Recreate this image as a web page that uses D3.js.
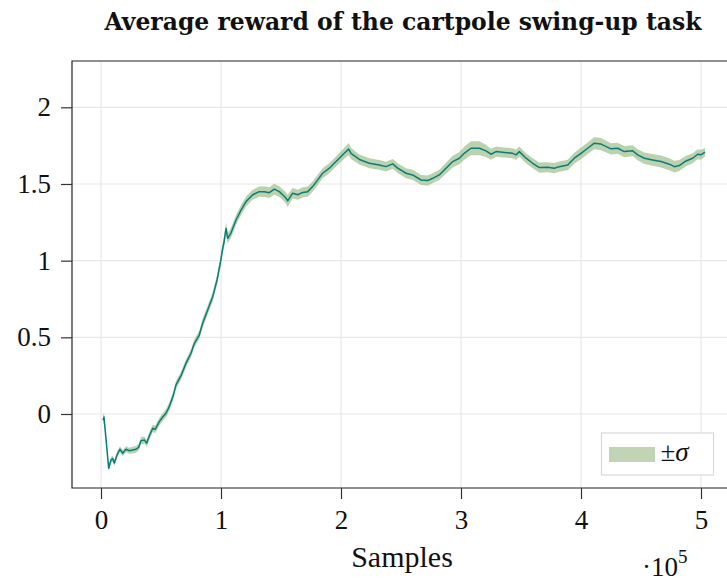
<!DOCTYPE html>
<html>
<head>
<meta charset="utf-8">
<script src="https://cdn.jsdelivr.net/npm/d3@7"></script>
<style>
  body { margin: 0; background: #fff; }
  svg { display: block; }
</style>
</head>
<body>
<div id="chart"></div>
<script>
// samples (raw count), mean reward and std
const samples = [
  1700, 2500, 6400, 8300, 9750, 11100, 13900, 15800, 18100, 20800,
  23600, 26400, 29200, 31400, 33300, 36100, 38100, 40200, 43100, 45200,
  48600, 51400, 54200, 56900, 60200, 62500, 66700, 70800, 75000, 77800,
  81900, 84700, 88900, 93100, 96700, 99400, 101400, 102500, 104200, 105600,
  108300, 112500, 116700, 120800, 126400, 131900, 136100, 140300, 144400, 148600,
  151400, 154200, 155600, 159700, 163900, 168100, 172200, 176400, 180600, 184700,
  190300, 194400, 198600, 202700, 206400, 208300, 215300, 223600, 231900, 237500,
  243100, 247200, 254200, 259700, 266700, 272200, 276400, 281900, 287500, 293100,
  298600, 302700, 308300, 315300, 320800, 325000, 329200, 336100, 343100, 345800,
  348600, 354200, 359700, 365300, 372200, 377800, 381900, 388900, 394400, 400000,
  405600, 411100, 416700, 425000, 430600, 436100, 443100, 447200, 452800, 459700,
  466700, 473600, 477800, 481900, 487500, 493100, 497200, 500000, 503300
];
const meanReward = [
  -0.04, -0.02, -0.354, -0.30, -0.29, -0.32, -0.256, -0.23, -0.256, -0.23,
  -0.24, -0.235, -0.23, -0.217, -0.174, -0.17, -0.19, -0.145, -0.093, -0.10,
  -0.05, -0.02, 0.005, 0.048, 0.12, 0.19, 0.25, 0.33, 0.396, 0.461,
  0.515, 0.592, 0.678, 0.765, 0.874, 0.983, 1.08, 1.12, 1.21, 1.146,
  1.18, 1.265, 1.33, 1.385, 1.43, 1.45, 1.45, 1.443, 1.466, 1.45,
  1.43, 1.407, 1.39, 1.44, 1.43, 1.445, 1.45, 1.483, 1.527, 1.57,
  1.603, 1.635, 1.668, 1.70, 1.727, 1.70, 1.66, 1.635, 1.624, 1.613,
  1.631, 1.603, 1.57, 1.559, 1.526, 1.522, 1.537, 1.559, 1.603, 1.646,
  1.668, 1.70, 1.733, 1.733, 1.716, 1.694, 1.711, 1.705, 1.70, 1.69,
  1.711, 1.668, 1.635, 1.607, 1.609, 1.603, 1.613, 1.624, 1.668, 1.70,
  1.733, 1.766, 1.76, 1.729, 1.733, 1.711, 1.716, 1.69, 1.668, 1.657,
  1.646, 1.629, 1.613, 1.62, 1.65, 1.668, 1.694, 1.69, 1.707
];
const stdReward = [
  0.03, 0.03, 0.02, 0.02, 0.02, 0.02, 0.02, 0.02, 0.02, 0.02,
  0.02, 0.022, 0.022, 0.022, 0.024, 0.024, 0.024, 0.025, 0.025, 0.025,
  0.025, 0.025, 0.027, 0.027, 0.027, 0.027, 0.027, 0.027, 0.027, 0.027,
  0.028, 0.03, 0.03, 0.03, 0.03, 0.032, 0.034, 0.04, 0.04, 0.034,
  0.033, 0.033, 0.033, 0.033, 0.033, 0.033, 0.035, 0.035, 0.035, 0.035,
  0.035, 0.038, 0.04, 0.034, 0.033, 0.033, 0.033, 0.033, 0.033, 0.033,
  0.033, 0.033, 0.034, 0.036, 0.04, 0.037, 0.033, 0.032, 0.032, 0.032,
  0.032, 0.032, 0.032, 0.033, 0.033, 0.033, 0.033, 0.033, 0.036, 0.038,
  0.04, 0.042, 0.045, 0.045, 0.04, 0.036, 0.033, 0.033, 0.033, 0.033,
  0.033, 0.033, 0.033, 0.033, 0.033, 0.033, 0.033, 0.034, 0.036, 0.038,
  0.038, 0.04, 0.04, 0.037, 0.036, 0.036, 0.036, 0.036, 0.037, 0.038,
  0.039, 0.039, 0.038, 0.036, 0.034, 0.033, 0.032, 0.032, 0.03
];
const xTicks = [0, 100000, 200000, 300000, 400000, 500000];
const yTicks = [0, 0.5, 1, 1.5, 2];

const width = 727, height = 581;
const plotLeft = 72, plotTop = 61, plotBottom = 488, plotRight = 728;

const lineColor = "#067f7b";
const bandColor = "#9fbf8c";
const gridColor = "#e8e8e8";
const serif = "'Liberation Serif', 'DejaVu Serif', serif";

const svg = d3.select("#chart").append("svg")
    .attr("width", width)
    .attr("height", height);

// scales: 0 -> x=101, 5e5 -> x=701 ; 0 -> y=414, 2 -> y=107.3
const x = d3.scaleLinear()
    .domain([(plotLeft - 101) / 600 * 500000, (plotRight - 101) / 600 * 500000])
    .range([plotLeft, plotRight]);
const y = d3.scaleLinear()
    .domain([-(plotBottom - 414) / 153.35, (414 - plotTop) / 153.35])
    .range([plotBottom, plotTop]);

// grid
svg.append("g")
    .selectAll("line")
    .data(xTicks)
    .join("line")
    .attr("x1", d => x(d)).attr("x2", d => x(d))
    .attr("y1", plotTop).attr("y2", plotBottom)
    .attr("stroke", gridColor).attr("stroke-width", 1.2);
svg.append("g")
    .selectAll("line")
    .data(yTicks)
    .join("line")
    .attr("x1", plotLeft).attr("x2", plotRight)
    .attr("y1", d => y(d)).attr("y2", d => y(d))
    .attr("stroke", gridColor).attr("stroke-width", 1.2);

const points = samples.map((s, i) => ({ s, m: meanReward[i], sd: stdReward[i] }));

// band
svg.append("path")
    .datum(points)
    .attr("d", d3.area()
        .x(d => x(d.s))
        .y0(d => y(d.m - d.sd))
        .y1(d => y(d.m + d.sd)))
    .attr("fill", bandColor)
    .attr("fill-opacity", 0.7);

// mean line
svg.append("path")
    .datum(points)
    .attr("d", d3.line()
        .x(d => x(d.s))
        .y(d => y(d.m)))
    .attr("fill", "none")
    .attr("stroke", lineColor)
    .attr("stroke-width", 1.5)
    .attr("stroke-linejoin", "round");

// frame
svg.append("path")
    .attr("d", `M${plotRight},${plotTop}H${plotLeft}V${plotBottom}H${plotRight}`)
    .attr("fill", "none")
    .attr("stroke", "#222")
    .attr("stroke-width", 1.2);

// axes
const xAxis = svg.append("g")
    .attr("transform", `translate(0,${plotBottom})`)
    .call(d3.axisBottom(x)
        .tickValues(xTicks)
        .tickSize(11)
        .tickPadding(11)
        .tickFormat(d => d / 100000));
const yAxis = svg.append("g")
    .attr("transform", `translate(${plotLeft},0)`)
    .call(d3.axisLeft(y)
        .tickValues(yTicks)
        .tickSize(11)
        .tickPadding(10)
        .tickFormat(d => d));

[xAxis, yAxis].forEach(g => {
    g.select(".domain").remove();
    g.selectAll(".tick line").attr("stroke", "#333").attr("stroke-width", 1.2);
    g.selectAll(".tick text")
        .attr("fill", "#111")
        .style("font-family", serif)
        .style("font-size", "27px");
});

// axis labels
svg.append("text")
    .attr("x", 402).attr("y", 567)
    .attr("text-anchor", "middle")
    .style("font-family", serif)
    .style("font-size", "30px")
    .attr("fill", "#111")
    .text("Samples");

const exp = svg.append("text")
    .attr("x", 642).attr("y", 576)
    .style("font-family", serif)
    .style("font-size", "27px")
    .attr("fill", "#111");
exp.append("tspan").text("·10");
exp.append("tspan").attr("dy", -13).style("font-size", "19px").text("5");

// title, sized to span the same width as the reference
const title = svg.append("text")
    .attr("x", 403).attr("y", 30)
    .attr("text-anchor", "middle")
    .style("font-family", "'DejaVu Serif', serif")
    .style("font-weight", "bold")
    .style("font-size", "22px")
    .attr("fill", "#111")
    .text("Average reward of the cartpole swing-up task");
const tw = title.node().getComputedTextLength();
title.style("font-size", (22 * 597 / tw).toFixed(2) + "px");

// legend
const legend = svg.append("g").attr("transform", "translate(601.5,433)");
legend.append("rect")
    .attr("width", 112).attr("height", 42)
    .attr("fill", "#fff")
    .attr("stroke", "#d9d9d9")
    .attr("stroke-width", 1.2);
legend.append("rect")
    .attr("x", 7.5).attr("y", 14)
    .attr("width", 46).attr("height", 15)
    .attr("fill", bandColor)
    .attr("fill-opacity", 0.65);
legend.append("text")
    .attr("x", 59).attr("y", 28)
    .style("font-family", serif)
    .style("font-size", "27px")
    .attr("fill", "#111")
    .html("±<tspan font-style='italic'>σ</tspan>");
</script>
</body>
</html>
